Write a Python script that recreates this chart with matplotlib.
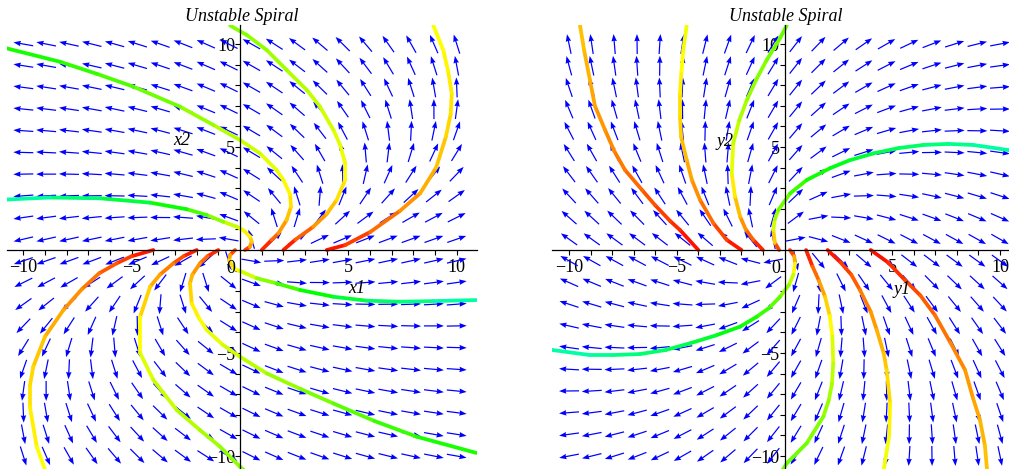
import numpy as np
import matplotlib
matplotlib.use("Agg")
import matplotlib.pyplot as plt
from matplotlib.collections import LineCollection
from matplotlib.colors import hsv_to_rgb

plt.rcParams['font.family'] = ['Liberation Serif', 'DejaVu Serif']

# linear systems behind the direction fields (estimated from the arrows)
A_left = [[1.0, -1.31], [0.30, 0.73]]
A_right = [[1.5, 1.0], [-1.0, 1.5]]
grid_pts = np.linspace(-10, 10, 20)

# trajectories (start point first)
l1_x = [4.0, 4.85, 6.0, 7.38, 8.31, 9.05, 9.5, 9.72, 9.77, 9.6, 9.38, 8.92]
l1_y = [0.0, 0.24, 0.87, 1.9, 2.75, 4.0, 5.5, 6.6, 7.6, 8.7, 9.7, 10.9]
l2_x = [2.0, 2.55, 3.38, 4.0, 4.46, 4.85, 4.85, 4.62, 4.31, 3.69, 3.08, 2.15, 1.23, 0.31, -0.46]
l2_y = [0.0, 0.5, 1.13, 1.75, 2.43, 3.4, 4.2, 5.1, 5.83, 6.96, 7.77, 8.74, 9.71, 10.44, 10.9]
l3_x = [1.0, 1.46, 1.77, 2.15, 2.35, 2.31, 2.0, 1.69, 0.92, 0.0, -1.23, -2.77, -4.92, -6.6, -8.31, -10.8]
l3_y = [0.0, 0.49, 0.81, 1.46, 2.1, 2.7, 3.4, 3.88, 4.69, 5.34, 6.07, 6.96, 7.93, 8.55, 9.14, 9.8]
l4_x = [0.23, 0.45, 0.54, 0.46, 0.15, -0.15, -0.77, -1.54, -2.46, -4.15, -6.46, -8.77, -10.8]
l4_y = [0.0, 0.15, 0.4, 0.65, 0.97, 1.13, 1.37, 1.7, 1.98, 2.3, 2.51, 2.55, 2.45]
l5_x = [-4.0, -5.0, -5.7, -6.5, -7.3, -8.15, -9.0, -9.54, -9.7, -9.7, -9.38, -8.92]
l5_y = [0.0, -0.3, -0.65, -1.13, -1.9, -2.91, -4.2, -5.66, -6.6, -7.6, -9.55, -10.9]
l6_x = [-2.0, -2.6, -3.08, -3.7, -4.15, -4.61, -4.61, -4.0, -2.92, -1.85, -0.92, 0.0, 0.3]
l6_y = [0.0, -0.3, -0.65, -1.2, -1.78, -3.24, -5.0, -6.31, -7.77, -8.74, -9.55, -10.52, -10.8]
l7_x = [-1.0, -1.5, -1.85, -2.2, -2.31, -2.23, -1.9, -1.54, -0.8, 0.0, 1.23, 2.8, 4.31, 6.2, 8.15, 10.9]
l7_y = [0.0, -0.3, -0.65, -1.2, -1.62, -2.59, -3.3, -3.88, -4.6, -5.18, -5.99, -6.75, -7.45, -8.3, -9.06, -9.85]
l8_x = [-0.23, -0.46, -0.5, -0.31, 0.0, 0.77, 1.69, 2.77, 4.31, 5.85, 7.38, 8.92, 10.9]
l8_y = [0.0, -0.24, -0.5, -0.89, -1.02, -1.37, -1.62, -1.94, -2.27, -2.46, -2.51, -2.48, -2.43]
left_end_hue = [0.17, 0.25, 0.33, 0.45, 0.17, 0.25, 0.33, 0.45]

r1_x = [4.0, 4.8, 5.59, 6.3, 6.98, 7.7, 8.38, 8.75, 9.07, 9.3, 9.4]
r1_y = [0.0, -0.6, -1.46, -2.2, -3.16, -4.5, -5.83, -7.2, -8.25, -9.5, -10.7]
r2_x = [2.0, 2.6, 3.1, 3.5, 4.0, 4.28, 4.6, 4.74, 4.9, 4.85, 4.6]
r2_y = [0.0, -0.6, -1.2, -1.94, -3.0, -3.88, -5.0, -5.83, -7.45, -9.06, -10.7]
r3_x = [1.0, 1.3, 1.6, 1.88, 2.1, 2.22, 2.26, 2.2, 2.05, 1.8, 1.03, 0.1, -0.1]
r3_y = [0.0, -0.8, -1.5, -2.27, -3.2, -4.2, -5.5, -6.5, -7.3, -8.09, -9.38, -10.36, -10.7]
r4_x = [0.25, 0.45, 0.49, 0.41, 0.2, -0.21, -0.7, -1.29, -2.06, -3.2, -4.39, -5.5, -6.7, -8.0, -9.03, -10.8]
r4_y = [0.0, -0.3, -0.65, -1.2, -1.7, -2.27, -2.8, -3.24, -3.72, -4.15, -4.53, -4.85, -5.05, -5.1, -5.1, -4.85]
r5_x = [-4.0, -4.85, -5.3, -6.01, -6.6, -7.4, -7.9, -8.33, -8.8, -9.03, -9.3, -9.49]
r5_y = [0.0, 0.97, 1.4, 2.18, 2.9, 3.88, 4.8, 5.83, 7.0, 8.25, 9.7, 10.9]
r6_x = [-2.0, -2.68, -3.3, -3.92, -4.3, -4.54, -4.8, -4.85, -4.85, -4.78, -4.7, -4.54]
r6_y = [0.0, 0.49, 1.3, 2.43, 3.4, 4.37, 5.5, 6.5, 7.61, 8.7, 9.71, 10.9]
r7_x = [-1.0, -1.45, -1.8, -2.06, -2.3, -2.45, -2.38, -2.1, -1.75, -1.3, -0.83, -0.2, 0.1]
r7_y = [0.0, 0.49, 1.0, 1.62, 2.6, 3.72, 5.18, 6.3, 7.28, 8.3, 9.22, 10.3, 10.9]
r8_x = [-0.25, -0.45, -0.52, -0.45, -0.29, 0.26, 1.03, 2.11, 3.0, 4.12, 5.3, 6.44, 7.6, 8.76, 10.4, 10.9]
r8_y = [0.0, 0.35, 0.97, 1.5, 1.94, 2.75, 3.4, 3.97, 4.35, 4.69, 4.95, 5.1, 5.15, 5.1, 4.85, 4.75]
right_end_hue = [0.13, 0.18, 0.27, 0.45, 0.13, 0.18, 0.27, 0.45]

tick_vals = [-10, -5, 5, 10]

W, H = 1009, 469
fig = plt.figure(figsize=(W / 100, H / 100), dpi=100)
fig.patch.set_facecolor('white')

ARROW_PX = 20.0


def draw_panel(ax, A, curves, hues, xlim, ylim, xname, yname, xname_at, yname_at):
    ax.set_xlim(xlim)
    ax.set_ylim(ylim)
    ax.set_facecolor('none')

    # direction field, every arrow the same length on screen
    pos = ax.get_position()
    sx = pos.width * W / (xlim[1] - xlim[0])
    sy = pos.height * H / (ylim[1] - ylim[0])
    X, Y = np.meshgrid(grid_pts, grid_pts)
    U = A[0][0] * X + A[0][1] * Y
    V = A[1][0] * X + A[1][1] * Y
    n = np.hypot(U * sx, V * sy)
    ax.quiver(X, Y, U * ARROW_PX / n, V * ARROW_PX / n, angles='xy',
              scale_units='xy', scale=1, pivot='middle', color='#0000ff',
              width=0.0026, headwidth=4.5, headlength=6, headaxislength=5.5,
              zorder=2)

    # trajectories, coloured red -> cyan with elapsed time (~log radius)
    for (xs, ys), h_end in zip(curves, hues):
        xs = np.asarray(xs)
        ys = np.asarray(ys)
        r = np.hypot(xs, ys)
        t = np.log(r / r[0]) / np.log(r[-1] / r[0])
        tm = 0.5 * (t[1:] + t[:-1])
        cols = hsv_to_rgb(np.column_stack([h_end * tm, np.ones_like(tm), np.ones_like(tm)]))
        pts = np.column_stack([xs, ys]).reshape(-1, 1, 2)
        segs = np.concatenate([pts[:-1], pts[1:]], axis=1)
        lc = LineCollection(segs, colors=cols, linewidths=2.7, capstyle='round',
                            joinstyle='round', zorder=3)
        ax.add_collection(lc)

    # axes through the origin
    for s in ['top', 'right']:
        ax.spines[s].set_visible(False)
    for s in ['left', 'bottom']:
        ax.spines[s].set_position(('data', 0))
        ax.spines[s].set_linewidth(0.9)
        ax.spines[s].set_zorder(5)
    ints = [v for v in range(-10, 11) if v != 0]
    labels = [('\u2212%d' % -v if v < 0 else str(v)) if v in tick_vals else '' for v in ints]
    ax.set_xticks(ints)
    ax.set_xticklabels(labels)
    ax.set_yticks(ints)
    ax.set_yticklabels(labels)
    ax.tick_params(direction='out', length=3.5, width=0.8, labelsize=13)
    ax.tick_params(axis='x', pad=3)
    ax.tick_params(axis='y', pad=0)
    ax.annotate('0', xy=(0, 0), xytext=(-6.5, -13), textcoords='offset points',
                ha='center', va='center', fontsize=13)
    ax.text(xname_at[0], xname_at[1], xname, style='italic', fontsize=13,
            ha='center', va='center', zorder=6)
    ax.text(yname_at[0], yname_at[1], yname, style='italic', fontsize=13,
            ha='center', va='center', zorder=6)


ax1 = fig.add_axes([7.3 / W, 1 - 476.6 / H, 469.8 / W, 451.1 / H])
draw_panel(ax1, A_left,
           [(l1_x, l1_y), (l2_x, l2_y), (l3_x, l3_y), (l4_x, l4_y),
            (l5_x, l5_y), (l6_x, l6_y), (l7_x, l7_y), (l8_x, l8_y)],
           left_end_hue, (-10.74, 10.94), (-11.0, 10.9),
           'x1', 'x2', (5.38, -1.86), (-2.69, 5.34))

ax2 = fig.add_axes([551.8 / W, 1 - 476.6 / H, 467.6 / W, 451.1 / H])
draw_panel(ax2, A_right,
           [(r1_x, r1_y), (r2_x, r2_y), (r3_x, r3_y), (r4_x, r4_y),
            (r5_x, r5_y), (r6_x, r6_y), (r7_x, r7_y), (r8_x, r8_y)],
           right_end_hue, (-10.8, 10.9), (-11.0, 10.9),
           'y1', 'y2', (5.44, -1.94), (-2.76, 5.26))

fig.text(242 / W, 1 - 16.7 / H, 'Unstable Spiral', style='italic', fontsize=13,
         ha='center', va='center')
fig.text(786 / W, 1 - 16.7 / H, 'Unstable Spiral', style='italic', fontsize=13,
         ha='center', va='center')

fig.savefig('out.png', dpi=100)
